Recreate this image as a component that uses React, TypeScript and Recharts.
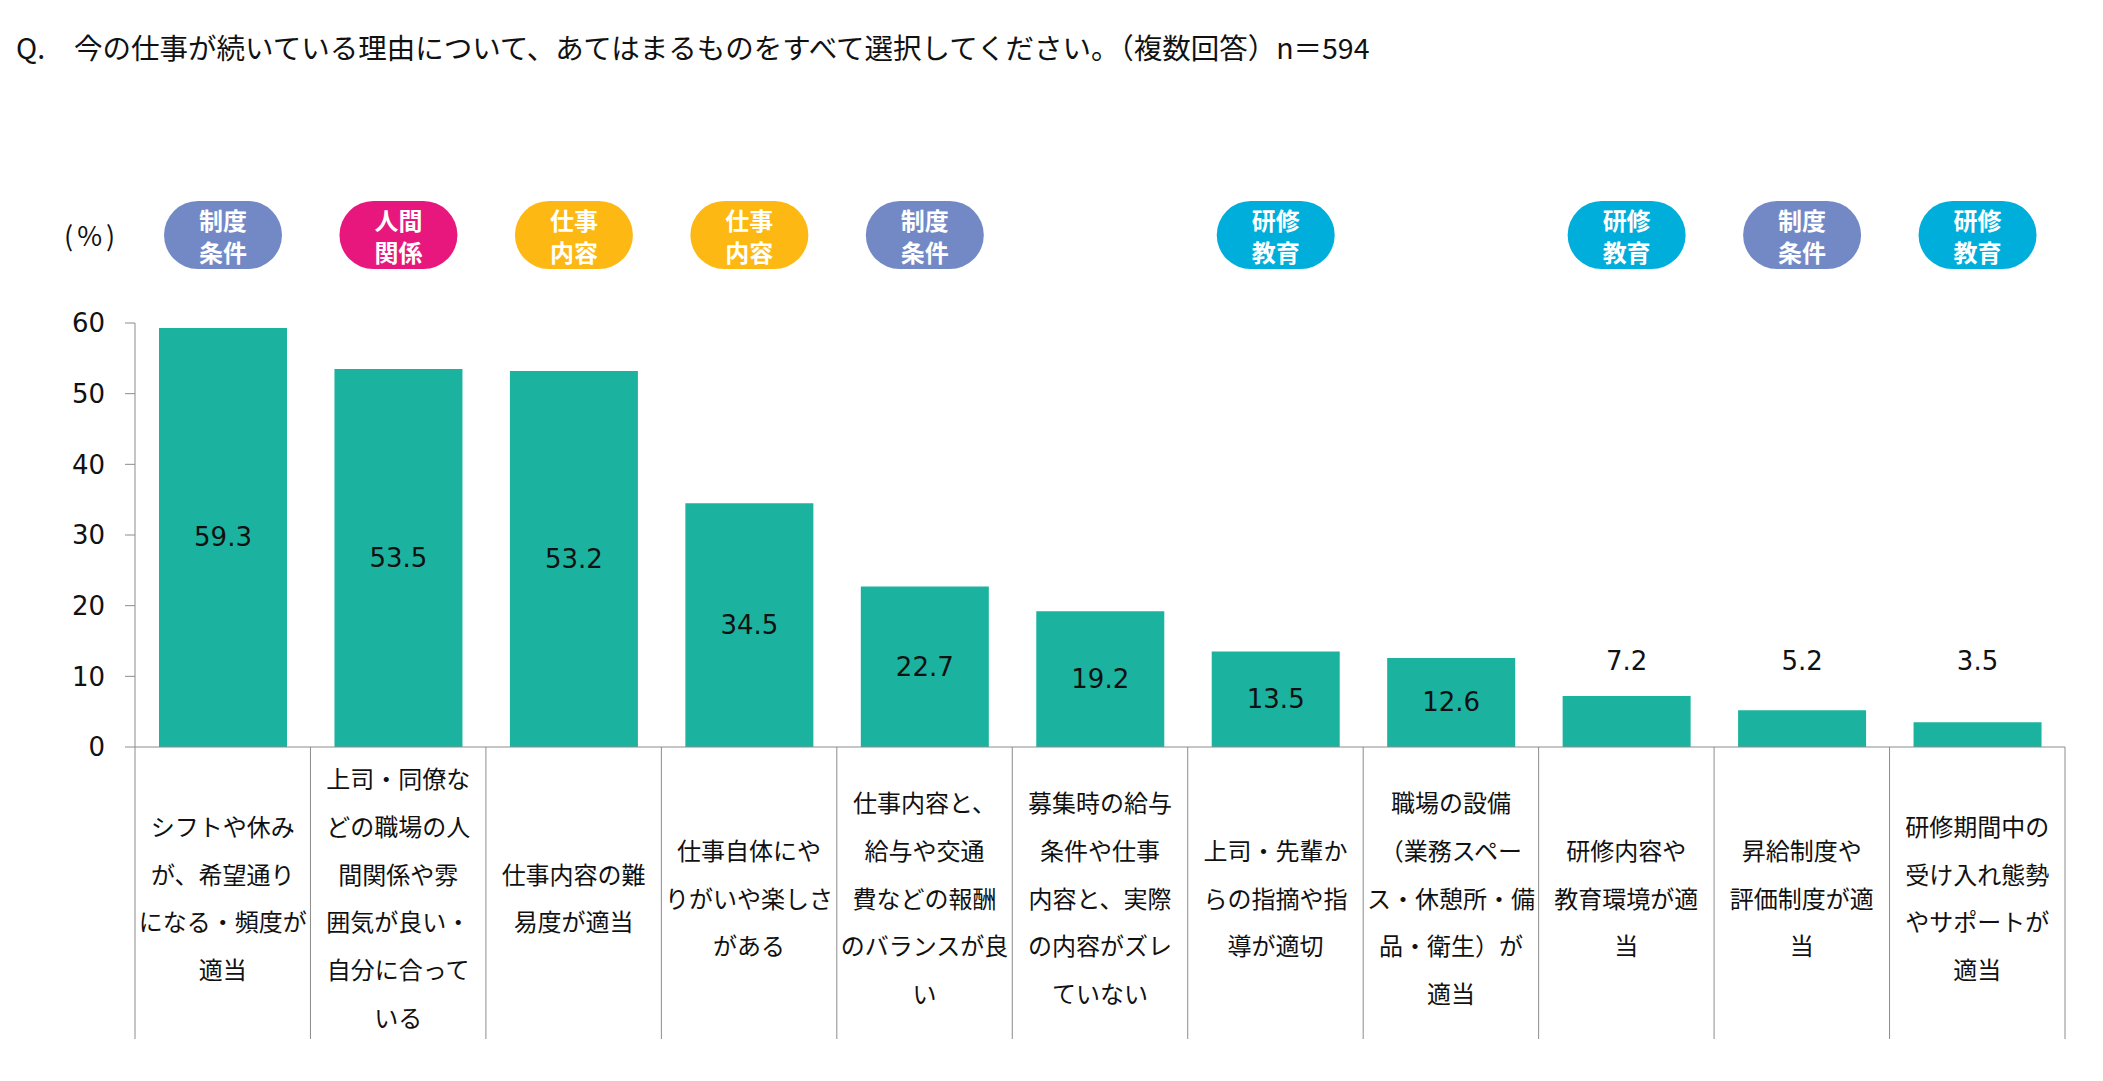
import { BarChart, Bar, XAxis, YAxis, LabelList } from 'recharts';

const categories = [
  'シフトや休み\nが、希望通り\nになる・頻度が\n適当',
  '上司・同僚な\nどの職場の人\n間関係や雰\n囲気が良い・\n自分に合って\nいる',
  '仕事内容の難\n易度が適当',
  '仕事自体にや\nりがいや楽しさ\nがある',
  '仕事内容と、\n給与や交通\n費などの報酬\nのバランスが良\nい',
  '募集時の給与\n条件や仕事\n内容と、実際\nの内容がズレ\nていない',
  '上司・先輩か\nらの指摘や指\n導が適切',
  '職場の設備\n（業務スペー\nス・休憩所・備\n品・衛生）が\n適当',
  '研修内容や\n教育環境が適\n当',
  '昇給制度や\n評価制度が適\n当',
  '研修期間中の\n受け入れ態勢\nやサポートが\n適当',
];
const values = [59.3, 53.5, 53.2, 34.5, 22.7, 19.2, 13.5, 12.6, 7.2, 5.2, 3.5];
const tags = ['制度条件', '人間関係', '仕事内容', '仕事内容', '制度条件', '', '研修教育', '', '研修教育', '制度条件', '研修教育'];
const yTicks = [0, 10, 20, 30, 40, 50, 60];

const tagColors: Record<string, string> = {
  制度条件: '#7389C6',
  人間関係: '#E8177D',
  仕事内容: '#FDB813',
  研修教育: '#00AEDB',
};

const data = categories.map((name, i) => ({ name, value: values[i], tag: tags[i] }));

// layout
const W = 2103;
const H = 1081;
const M = { top: 323, right: 38, bottom: 40, left: 75 };
const YAXIS_W = 60;
const XAXIS_H = 294;
const BAND = (W - M.left - M.right - YAXIS_W) / categories.length;

const JP = "'Noto Sans CJK JP', sans-serif";
const NUM = "'DejaVu Sans', sans-serif";
const AXIS_COLOR = '#8c8c8c';

const CategoryTick = (props: any) => {
  const { x, y, payload, index } = props;
  const lines = String(payload.value).split('\n');
  const lh = 47.7;
  const cy = y + 150;
  return (
    <g>
      <line x1={x - BAND / 2} y1={y} x2={x - BAND / 2} y2={y + 292} stroke={AXIS_COLOR} strokeWidth={1} />
      {index === categories.length - 1 && (
        <line x1={x + BAND / 2} y1={y} x2={x + BAND / 2} y2={y + 292} stroke={AXIS_COLOR} strokeWidth={1} />
      )}
      <text textAnchor="middle" fontFamily={JP} fontSize={24} fill="#111">
        {lines.map((l, i) => (
          <tspan key={i} x={x} y={cy + (i - (lines.length - 1) / 2) * lh} dominantBaseline="central">
            {l}
          </tspan>
        ))}
      </text>
    </g>
  );
};

const ValueLabel = (props: any) => {
  const { x, y, width, height, value } = props;
  const cx = x + width / 2;
  const inside = value >= 10;
  const cy = inside ? y + height / 2 : y + height - 86;
  return (
    <text x={cx} y={cy} textAnchor="middle" dominantBaseline="central" fontFamily={NUM} fontSize={26} fill="#111">
      {Number(value).toFixed(1)}
    </text>
  );
};

const TagBadge = (props: any) => {
  const { x, width, value } = props;
  if (!value) return null;
  const cx = x + width / 2;
  const cy = M.top - 88;
  const s = String(value);
  return (
    <g>
      <rect x={cx - 59} y={cy - 34} width={118} height={68} rx={34} ry={34} fill={tagColors[s]} />
      <text textAnchor="middle" fontFamily={JP} fontWeight="bold" fontSize={24} fill="#fff">
        <tspan x={cx} y={cy - 16} dominantBaseline="central">{s.slice(0, 2)}</tspan>
        <tspan x={cx} y={cy + 16} dominantBaseline="central">{s.slice(2)}</tspan>
      </text>
    </g>
  );
};

export default function App() {
  return (
    <div style={{ position: 'absolute', left: 0, top: 0, width: W, height: H, background: '#fff' }}>
      <div style={{ position: 'absolute', left: 16, top: 28, fontFamily: JP, fontSize: 28.5, lineHeight: '38px', color: '#111', whiteSpace: 'nowrap' }}>
        Q.
      </div>
      <div style={{ position: 'absolute', left: 74, top: 28, fontFamily: JP, fontSize: 28.5, lineHeight: '38px', color: '#111', whiteSpace: 'nowrap' }}>
        今の仕事が続いている理由について、あてはまるものをすべて選択してください。（複数回答）n＝594
      </div>
      <div style={{ position: 'absolute', left: 64, top: 216, fontFamily: JP, fontSize: 27, lineHeight: '38px', letterSpacing: 4, color: '#111' }}>
        (%)
      </div>
      <div style={{ position: 'absolute', left: 0, top: 0 }}>
        <BarChart width={W} height={H} data={data} margin={M}>
          <XAxis
            dataKey="name"
            interval={0}
            height={XAXIS_H}
            tickSize={0}
            tickMargin={0}
            axisLine={{ stroke: AXIS_COLOR, strokeWidth: 1 }}
            tickLine={false}
            tick={<CategoryTick />}
          />
          <YAxis
            width={YAXIS_W}
            domain={[0, 60]}
            ticks={yTicks}
            interval={0}
            tickSize={10}
            tickMargin={20}
            axisLine={{ stroke: AXIS_COLOR, strokeWidth: 1 }}
            tickLine={{ stroke: AXIS_COLOR, strokeWidth: 1 }}
            tick={{ fontFamily: NUM, fontSize: 26, fill: '#111' }}
          />
          <Bar dataKey="value" fill="#1BB39F" barSize={128} isAnimationActive={false}>
            <LabelList dataKey="value" content={<ValueLabel />} />
            <LabelList dataKey="tag" content={<TagBadge />} />
          </Bar>
        </BarChart>
      </div>
    </div>
  );
}
